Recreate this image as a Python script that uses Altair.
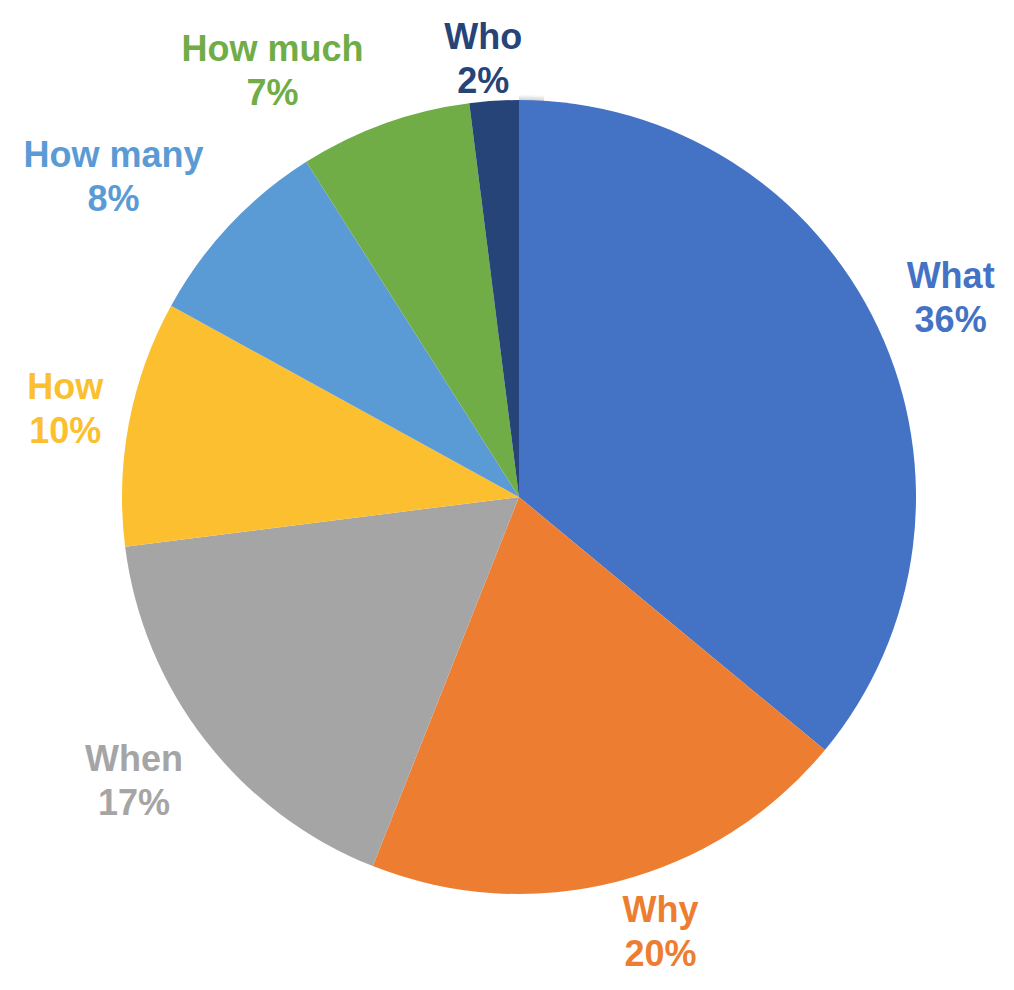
import altair as alt
import pandas as pd

# ---- data ----
categories = ["What", "Why", "When", "How", "How many", "How much", "Who"]
shares = [36, 20, 17, 10, 8, 7, 2]
colors = ["#4472C4", "#ED7D31", "#A5A5A5", "#FBBF2F", "#5B9BD5", "#70AD47", "#264478"]

df = pd.DataFrame({"category": categories, "share": shares, "order": list(range(len(categories)))})

# ---- layout / style ----
W, H = 998, 974
CX, CY = 511, 489
R = 397
FS = 36
LH = 44
ANCHOR = R + 10     # label anchor radius just outside the pie
GX = 18             # horizontal gap between anchor and label box
HH = 42             # half height of a two-line label
YMIN = 52

color_scale = alt.Scale(domain=categories, range=colors)

# soft shadow rings under the pie
shadow_layers = []
for k in range(1, 8):
    shadow_layers.append(
        alt.Chart(pd.DataFrame({"v": [1]}))
        .mark_arc(outerRadius=R + k, color="#000000", opacity=0.03)
        .encode(theta=alt.Theta("v:Q"), x=alt.value(CX), y=alt.value(CY + 2))
    )

pie = (
    alt.Chart(df)
    .mark_arc(outerRadius=R, stroke=None)
    .encode(
        theta=alt.Theta("share:Q", stack=True),
        order=alt.Order("order:Q"),
        color=alt.Color("category:N", scale=color_scale, legend=None),
        x=alt.value(CX),
        y=alt.value(CY),
    )
)

labels = (
    alt.Chart(df)
    .transform_window(cum="sum(share)", sort=[alt.SortField("order")], frame=[None, 0])
    .transform_joinaggregate(total="sum(share)")
    .transform_calculate(
        mid="(datum.cum - datum.share / 2) / datum.total * 2 * PI",
        tw=f"max(length(datum.category) * 0.63, 2.0) * {FS}",
    )
    .transform_calculate(
        ax=f"{CX} + {ANCHOR} * sin(datum.mid)",
        ay=f"{CY} - {ANCHOR} * cos(datum.mid)",
        kx="clamp(3 * sin(datum.mid), -1, 1)",
        ky="clamp(1.4 * cos(datum.mid), -1, 1)",
    )
    .transform_calculate(
        lx=f"datum.ax + datum.kx * (datum.tw / 2 + {GX})",
        ly=f"max({YMIN}, datum.ay - datum.ky * {HH})",
        label="datum.category + '\\n' + datum.share + '%'",
    )
    .mark_text(
        font="Liberation Sans",
        fontWeight="bold",
        fontSize=FS,
        lineBreak="\n",
        lineHeight=LH,
        align="center",
        baseline="middle",
        dy=-LH / 2,
    )
    .encode(
        x=alt.X("lx:Q", scale=None, axis=None),
        y=alt.Y("ly:Q", scale=None, axis=None),
        text="label:N",
        color=alt.Color("category:N", scale=color_scale, legend=None),
    )
)

chart = (
    alt.layer(*shadow_layers, pie, labels)
    .properties(width=W, height=H, autosize=alt.AutoSizeParams(type="none"), padding=0)
    .configure_view(stroke=None)
)

chart.save("out.html", embed_options={"renderer": "svg", "actions": False})
